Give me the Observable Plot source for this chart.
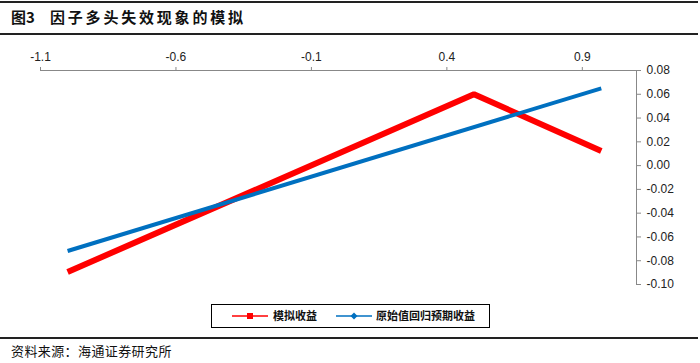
<!DOCTYPE html>
<html>
<head>
<meta charset="utf-8">
<script src="https://cdn.jsdelivr.net/npm/d3@7"></script>
<script src="https://cdn.jsdelivr.net/npm/@observablehq/plot@0.6"></script>
<style>
  html, body { margin: 0; padding: 0; background: #fff; }
  #page { position: relative; width: 700px; height: 363px; overflow: hidden; font-family: "Noto Sans CJK SC", sans-serif; }
  .hline { position: absolute; left: 0; width: 698px; background: #222; }
  #title1 { position: absolute; left: 11px; top: 7px; font-size: 15px; font-weight: bold; color: #111; line-height: 20px; }
  #title2 { position: absolute; left: 50px; top: 7px; font-size: 15px; font-weight: bold; color: #111; line-height: 20px; letter-spacing: 2.8px; }
  #chart { position: absolute; left: 0; top: 34px; }
  #legend { position: absolute; left: 211px; top: 304px; width: 277px; height: 22px; border: 1px solid #000; background: #fff; }
  #source { position: absolute; left: 11px; top: 342px; font-size: 13px; color: #111; line-height: 18px; letter-spacing: 0.4px; }
</style>
</head>
<body>
<div id="page">
  <div class="hline" style="top:1px;height:2px;"></div>
  <div id="title1">图3</div>
  <div id="title2">因子多头失效现象的模拟</div>
  <div class="hline" style="top:33px;height:1.5px;"></div>
  <div id="chart"></div>
  <div id="legend"></div>
  <div class="hline" style="top:337px;height:1.5px;"></div>
  <div id="source">资料来源：海通证券研究所</div>
</div>
<script>
// ---- data ----
const seriesNames = ["模拟收益", "原始值回归预期收益"];
const seriesColors = ["#FF0000", "#0070C0"];
const redX = [-1.0, 0.5, 0.97];
const redY = [-0.0895, 0.060, 0.0123];
const blueX = [-1.0, 0.97];
const blueY = [-0.0718, 0.065];
const xTicks = [-1.1, -0.6, -0.1, 0.4, 0.9];
const yTicks = [0.08, 0.06, 0.04, 0.02, 0.00, -0.02, -0.04, -0.06, -0.08, -0.10];
const xDomain = [-1.1, 1.1];
const yDomain = [-0.10, 0.08];

const redData = redX.map((x, i) => ({x, y: redY[i]}));
const blueData = blueX.map((x, i) => ({x, y: blueY[i]}));

const fmt = (d, n) => (d < 0 ? "-" : "") + Math.abs(d).toFixed(n);

const plot = Plot.plot({
  width: 700,
  height: 262,
  marginTop: 36,
  marginBottom: 12,
  marginLeft: 40,
  marginRight: 64,
  style: { fontFamily: "Liberation Sans, Arial, sans-serif", fontSize: "12px", color: "#222", background: "transparent" },
  x: { domain: xDomain, axis: null, label: null },
  y: { domain: yDomain, axis: null, label: null },
  marks: [
    Plot.axisX({ anchor: "top", ticks: xTicks, tickSize: 4, tickPadding: 6, stroke: "#888", fill: "#222", tickFormat: d => fmt(d, 1), fontSize: 12, label: null }),
    Plot.axisY({ anchor: "right", ticks: yTicks, tickSize: 4, tickPadding: 6, stroke: "#888", fill: "#222", tickFormat: d => fmt(d, 2), fontSize: 12, label: null }),
    Plot.frame({ anchor: "top", stroke: "#888" }),
    Plot.frame({ anchor: "right", stroke: "#888" }),
    Plot.line(redData, { x: "x", y: "y", stroke: seriesColors[0], strokeWidth: 6, strokeLinejoin: "miter", strokeLinecap: "butt" }),
    Plot.line(blueData, { x: "x", y: "y", stroke: seriesColors[1], strokeWidth: 4, strokeLinecap: "butt" })
  ]
});
document.getElementById("chart").appendChild(plot);

// legend
const lg = d3.select("#legend").append("svg").attr("width", 277).attr("height", 22)
  .style("position", "absolute").style("left", 0).style("top", 0);
const items = [
  { x0: 20, text: seriesNames[0], color: seriesColors[0], tx: 61, marker: "square" },
  { x0: 124, text: seriesNames[1], color: seriesColors[1], tx: 164, marker: "diamond" }
];
items.forEach(it => {
  lg.append("line").attr("x1", it.x0).attr("x2", it.x0 + 36).attr("y1", 11).attr("y2", 11)
    .attr("stroke", it.color).attr("stroke-width", 1.5);
  const cx = it.x0 + 18;
  if (it.marker === "square") {
    lg.append("rect").attr("x", cx - 3).attr("y", 8).attr("width", 6).attr("height", 6).attr("fill", it.color);
  } else {
    lg.append("path").attr("d", `M${cx},7.5L${cx + 3.5},11L${cx},14.5L${cx - 3.5},11Z`).attr("fill", it.color);
  }
  lg.append("text").attr("x", it.tx).attr("y", 11).attr("dy", "0.36em")
    .attr("font-family", "Noto Sans CJK SC, sans-serif").attr("font-weight", "bold").attr("font-size", 11)
    .attr("fill", "#111").text(it.text);
});
</script>
</body>
</html>
